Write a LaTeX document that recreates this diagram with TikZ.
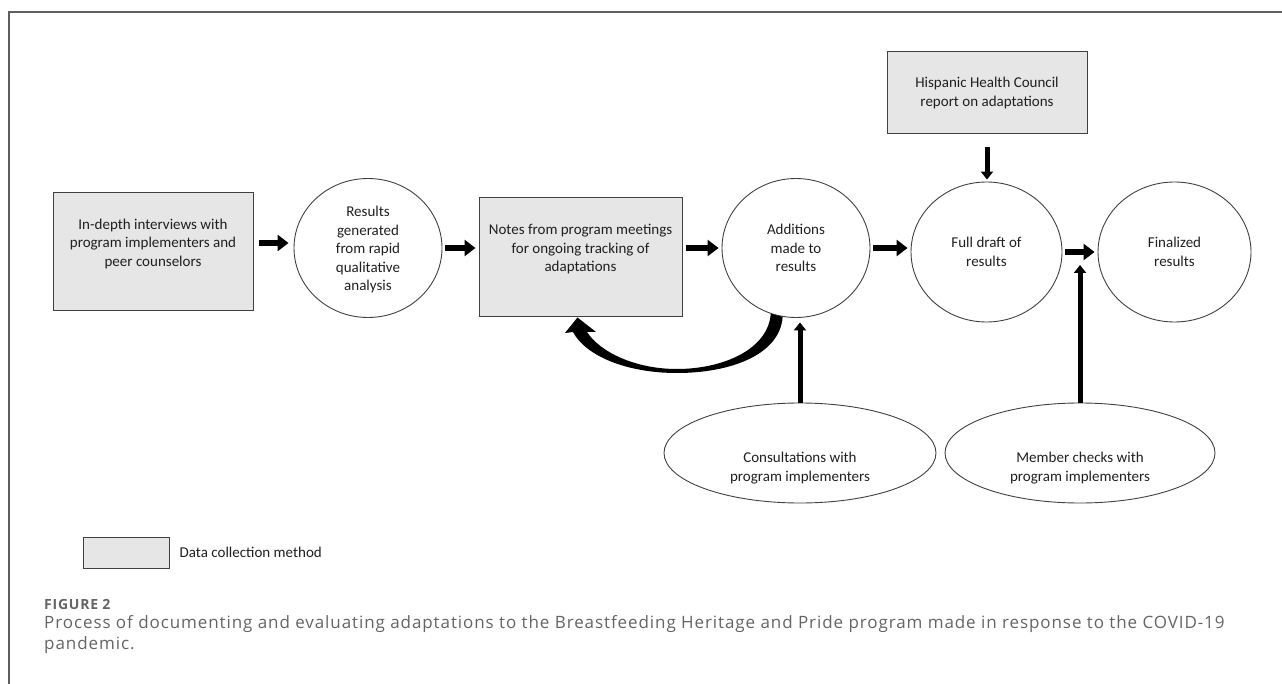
\documentclass[tikz,border=0pt]{standalone}
\usepackage{fontspec}
\setmainfont{Carlito}
\newfontfamily\captionfont[LetterSpace=5.4]{Open Sans}
\usetikzlibrary{positioning,shapes.geometric,arrows.meta}

\definecolor{methodfill}{HTML}{E6E6E6}
\definecolor{edgegray}{HTML}{404040}
\definecolor{framegray}{HTML}{5E5E5E}
\definecolor{captiongray}{HTML}{646464}
\definecolor{labelgray}{HTML}{1F1F1F}

\begin{document}
\begin{tikzpicture}[x=1pt, y=-1pt,
    every node/.style={font=\fontsize{15}{18.5}\selectfont, text=labelgray,
      align=center, inner sep=0pt},
    method/.style={rectangle, draw=edgegray, fill=methodfill, line width=1pt},
    stage/.style={ellipse, draw=edgegray, line width=0.9pt},
    flow/.style={line width=6pt, shorten <=3pt, shorten >=3pt,
      -{Triangle[length=11pt, width=16pt]}},
    feed/.style={line width=5pt, -{Triangle[length=8pt, width=12pt]}}
  ]

  \useasboundingbox (0,0) rectangle (1282,684);

  % figure frame
  \draw[framegray, line width=2pt] (1282,12) -- (9,12) -- (9,684);

  % data collection and analysis
  \node[method, minimum width=200pt, minimum height=118pt] (interv) at (153,252)
    {In-depth interviews with\\program implementers and\\peer counselors\\\mbox{}};
  \node[stage, minimum width=148pt, minimum height=139pt] (results) at (368,248)
    {\rule{0pt}{14pt}Results\\generated\\from rapid\\qualitative\\analysis};
  \node[method, minimum width=203pt, minimum height=119pt] (notes) at (580.5,257.5)
    {Notes from program meetings\\for ongoing tracking of\\adaptations\\\mbox{}};
  \node[stage, minimum width=148pt, minimum height=139pt] (add) at (796,248)
    {Additions\\made to\\results};
  \node[stage, minimum width=151pt, minimum height=140pt] (draft) at (986.5,252)
    {Full draft of\\results};
  \node[stage, minimum width=153pt, minimum height=140pt] (final) at (1174.5,252)
    {Finalized\\results};
  \node[method, minimum width=200pt, minimum height=82pt] (hhc) at (987,93)
    {Hispanic Health Council\\report on adaptations};
  \node[stage, minimum width=272pt, minimum height=100pt] (consult) at (800,453)
    {\rule{0pt}{22pt}\\Consultations with\\program implementers};
  \node[stage, minimum width=270pt, minimum height=100pt] (member) at (1080,453)
    {\rule{0pt}{22pt}\\Member checks with\\program implementers};

  % legend
  \node[method, minimum width=86pt, minimum height=31pt] (key) at (126,552.5) {};
  \node[right=10pt of key] (keytext) {Data collection method};

  % caption
  \node[anchor=base west, text=captiongray,
    font=\captionfont\fontsize{14}{16}\selectfont\bfseries] (fig) at (44,609) {FIGURE 2};
  \node[anchor=north west, align=left, text=captiongray,
    font=\captionfont\fontsize{17}{21.5}\selectfont] (cap) at (44,615)
    {Process of documenting and evaluating adaptations to the Breastfeeding Heritage and Pride program made in response to the COVID-19\\pandemic.};

  % main flow
  \draw[flow, shorten <=5pt, shorten >=5pt] ([yshift=9pt]interv.east)
    -- ([yshift=9pt]interv.east -| results.west);
  \draw[flow] (results.east) -- (results.east -| notes.west);
  \draw[flow] (notes.east |- add.west) -- (add.west);
  \draw[flow] (add.east) -- (add.east -| draft.west);
  \draw[flow] (draft.east) -- (draft.east -| final.west);

  % inputs to the results
  \draw[feed, shorten <=13pt, shorten >=2pt] (hhc.south) -- (hhc.south |- draft.north);
  \draw[feed, shorten >=4.5pt] (consult.north) -- (consult.north |- add.south);
  \coordinate (join) at (1080,265);
  \draw[feed] (member.north) -- (join);

  % feedback into meeting notes
  \fill (add.259) .. controls (780,355) and (730,373) .. (677,373)
    .. controls (625,373) and (585,355) .. (573,332)
    -- (565,333) -- ([xshift=-3pt]notes.south) -- (596,332) -- (587,332)
    .. controls (600,352) and (635,369) .. (677,369)
    .. controls (722,369) and (768,350) .. (add.249) -- cycle;

\end{tikzpicture}
\end{document}
